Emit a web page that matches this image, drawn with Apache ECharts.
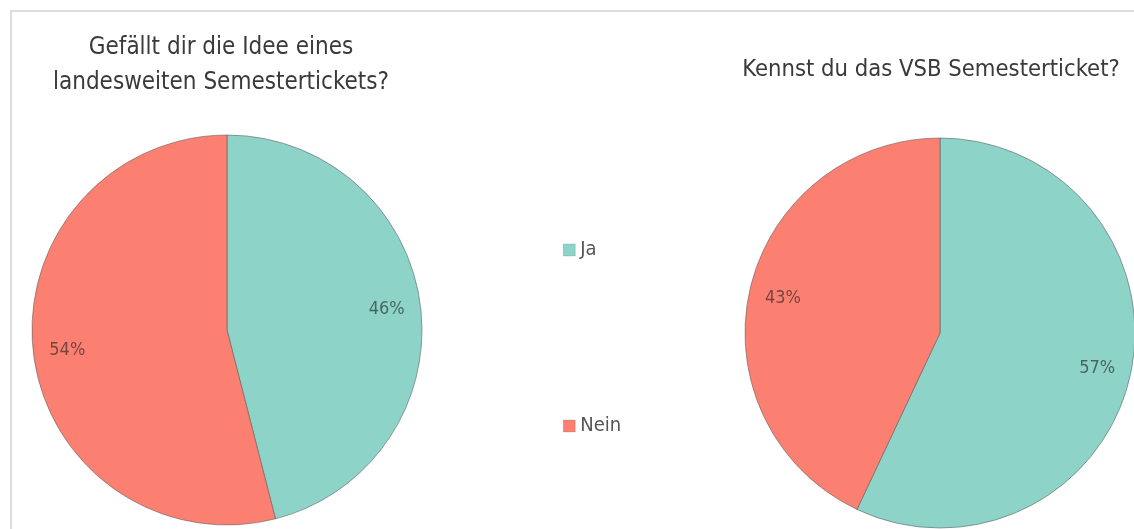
<!DOCTYPE html>
<html>
<head>
<meta charset="utf-8">
<script src="https://cdn.jsdelivr.net/npm/echarts@6/dist/echarts.min.js"></script>
<style>
html,body{margin:0;padding:0;background:#fff;}
#c{width:1134px;height:529px;}
</style>
</head>
<body>
<div id="c"></div>
<script>
var categories = ['Ja', 'Nein'];
var leftTitle = 'Gefällt dir die Idee eines\nlandesweiten Semestertickets?';
var rightTitle = 'Kennst du das VSB Semesterticket?';
var leftValues = [46, 54];
var rightValues = [57, 43];
var colors = ['#8dd3c7', '#fb8072'];

var FONT = '"Liberation Sans Narrow", "DejaVu Sans Condensed", "Roboto", sans-serif';

function toData(vals) {
  return categories.map(function (c, i) { return { name: c, value: vals[i] }; });
}

function pieSeries(vals, center) {
  return {
    type: 'pie',
    center: center,
    radius: [0, 195],
    startAngle: 90,
    clockwise: true,
    animation: false,
    label: { show: false },
    labelLine: { show: false },
    itemStyle: { borderColor: 'rgba(90,90,90,0.55)', borderWidth: 1 },
    emphasis: { disabled: true },
    data: toData(vals)
  };
}

function labelSeries(vals, center) {
  return {
    type: 'pie',
    center: center,
    radius: [124, 192],
    startAngle: 90,
    clockwise: true,
    animation: false,
    silent: true,
    legendHoverLink: false,
    itemStyle: { color: 'transparent', borderWidth: 0 },
    label: {
      show: true,
      position: 'inside',
      formatter: '{c}%',
      fontFamily: FONT,
      fontSize: 18,
      color: 'rgba(30,30,30,0.62)'
    },
    labelLine: { show: false },
    emphasis: { disabled: true },
    data: toData(vals)
  };
}

var chart = echarts.init(document.getElementById('c'));
chart.setOption({
  color: colors,
  animation: false,
  title: [
    { text: leftTitle, left: 216, top: 25, textAlign: 'center',
      textStyle: { fontFamily: FONT, fontSize: 24, fontWeight: 'normal', color: '#3a3a3a', lineHeight: 35 } },
    { text: rightTitle, left: 926, top: 53, textAlign: 'center',
      textStyle: { fontFamily: FONT, fontSize: 23.6, fontWeight: 'normal', color: '#3a3a3a' } }
  ],
  legend: {
    orient: 'vertical',
    left: 558,
    top: 235,
    itemGap: 156,
    itemWidth: 12,
    itemHeight: 12,
    icon: 'rect',
    selectedMode: false,
    data: categories,
    textStyle: { fontFamily: FONT, fontSize: 20, color: '#555' },
    itemStyle: { borderColor: 'rgba(90,90,90,0.4)', borderWidth: 0.5 }
  },
  graphic: [
    { type: 'polyline', shape: { points: [[11, 529], [11, 11], [1134, 11]] },
      style: { stroke: '#dcdcdc', lineWidth: 2, fill: null }, silent: true }
  ],
  series: [
    pieSeries(leftValues, [227, 330]),
    pieSeries(rightValues, [940, 333]),
    labelSeries(leftValues, [227, 330]),
    labelSeries(rightValues, [940, 333])
  ]
});
</script>
</body>
</html>
